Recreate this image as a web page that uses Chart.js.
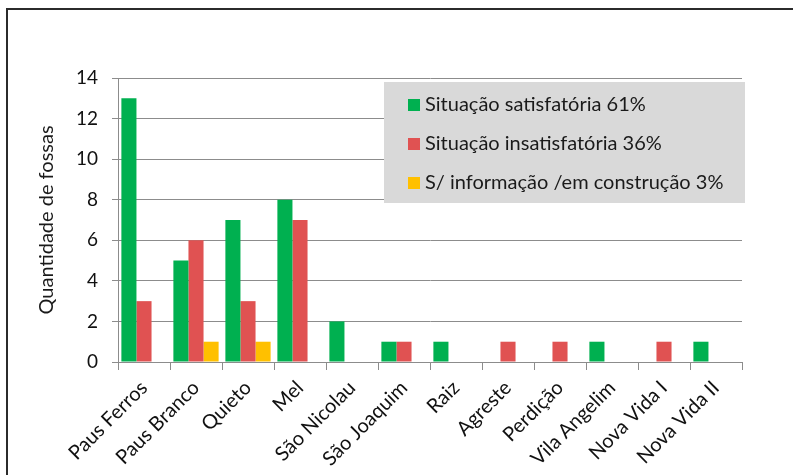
<!DOCTYPE html>
<html>
<head>
<meta charset="utf-8">
<script src="https://cdn.jsdelivr.net/npm/chart.js@4"></script>
<style>
  html, body { margin: 0; padding: 0; background: #fff; }
  #wrap { width: 793px; height: 475px; position: relative; }
</style>
</head>
<body>
<div id="wrap"><canvas id="fossasChart"></canvas></div>
<script>
// comunidades e contagem de fossas por situação
const categorias = ["Paus Ferros", "Paus Branco", "Quieto", "Mel", "São Nicolau", "São Joaquim",
  "Raiz", "Agreste", "Perdição", "Vila Angelim", "Nova Vida I", "Nova Vida II"];
const satisfatoria   = [13, 5, 7, 8, 2, 1, 1, 0, 0, 1, 0, 1];
const insatisfatoria = [3, 6, 3, 7, 0, 1, 0, 1, 1, 0, 1, 0];
const semInformacao  = [0, 1, 1, 0, 0, 0, 0, 0, 0, 0, 0, 0];
const nomesSeries = ["Situação satisfatória 61%", "Situação insatisfatória 36%", "S/ informação /em construção 3%"];
const coresSeries = ["#00b050", "#e05252", "#ffc000"];
const eixoY = { min: 0, max: 14, passo: 2, titulo: "Quantidade de fossas" };

const fonte = "Lato, 'Open Sans', sans-serif";

// moldura escura em volta do gráfico
const moldura = {
  id: "moldura",
  beforeDraw(chart) {
    const ctx = chart.ctx;
    ctx.save();
    ctx.strokeStyle = "#2b2b2b";
    ctx.lineWidth = 2;
    ctx.strokeRect(7, 9, chart.width + 20, chart.height + 20);
    ctx.restore();
  }
};

// legenda em caixa cinza dentro da área do gráfico
const legendaCaixa = {
  id: "legendaCaixa",
  afterDatasetsDraw(chart, args, opts) {
    const ctx = chart.ctx;
    ctx.save();
    ctx.fillStyle = "#d9d9d9";
    ctx.fillRect(opts.x, opts.y, opts.w, opts.h);
    ctx.font = opts.font;
    ctx.textBaseline = "middle";
    chart.data.datasets.forEach((ds, i) => {
      const cy = opts.y + opts.primeiro + i * opts.espaco;
      ctx.fillStyle = ds.backgroundColor;
      ctx.fillRect(opts.x + 24, cy - 6, 12, 12);
      ctx.fillStyle = "#1a1a1a";
      ctx.fillText(ds.label, opts.x + 41, cy);
    });
    ctx.restore();
  }
};

const ctx = document.getElementById("fossasChart");

new Chart(ctx, {
  type: "bar",
  data: {
    labels: categorias,
    datasets: [
      { label: nomesSeries[0], data: satisfatoria, backgroundColor: coresSeries[0] },
      { label: nomesSeries[1], data: insatisfatoria, backgroundColor: coresSeries[1] },
      { label: nomesSeries[2], data: semInformacao, backgroundColor: coresSeries[2] }
    ]
  },
  options: {
    responsive: true,
    maintainAspectRatio: false,
    animation: false,
    layout: { padding: { top: 78, right: 51, left: 0, bottom: 0 } },
    datasets: { bar: { categoryPercentage: 0.87, barPercentage: 1.0, borderWidth: 0 } },
    plugins: {
      legend: { display: false },
      tooltip: { enabled: false },
      legendaCaixa: {
        x: 384, y: 82, w: 361, h: 121, primeiro: 23, espaco: 39,
        font: "20px " + fonte
      }
    },
    scales: {
      x: {
        offset: true,
        grid: { display: true, drawOnChartArea: false, offset: true, tickLength: 8, color: "#8c8c8c" },
        border: { display: true, color: "#8c8c8c" },
        ticks: {
          minRotation: 45, maxRotation: 45, autoSkip: false, padding: 6,
          color: "#111", font: { family: fonte, size: 20 }
        },
        afterFit(s) { s.height = 113; }
      },
      y: {
        min: eixoY.min, max: eixoY.max,
        grid: { color: "#8c8c8c", tickLength: 6 },
        border: { display: true, color: "#8c8c8c" },
        ticks: {
          stepSize: eixoY.passo, padding: 14,
          color: "#111", font: { family: fonte, size: 19 }
        },
        title: {
          display: true, text: eixoY.titulo, color: "#1a1a1a",
          font: { family: fonte, size: 20 }, padding: { top: 35, bottom: 0 }
        },
        afterFit(s) { s.width = 118; }
      }
    }
  },
  plugins: [moldura, legendaCaixa]
});
</script>
</body>
</html>
